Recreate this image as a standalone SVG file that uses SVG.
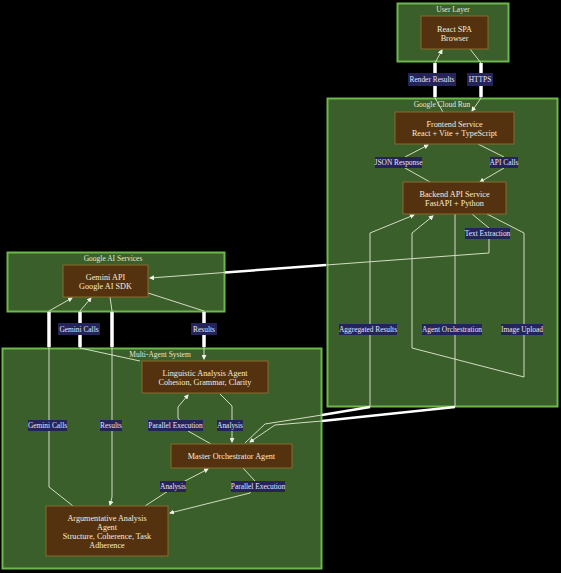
<svg xmlns="http://www.w3.org/2000/svg" width="561" height="573" viewBox="0 0 561 573">
<style>
.cl{fill:#3a5f2b;stroke:#6db84c;stroke-width:2}
.ct{font-family:"Liberation Serif",serif;font-size:7.5px;fill:#e6e6d6;text-anchor:middle}
.nd{fill:#55320f;stroke:#8a6a2c;stroke-width:1}
.nt{font-family:"Liberation Serif",serif;font-size:8.2px;fill:#f4ecdc;text-anchor:middle}
.e{fill:none;stroke:#d4dcc4;stroke-width:1}
.w{fill:none;stroke:#ffffff;stroke-width:3.5}
.lb{fill:#24245a}
.lt{font-family:"Liberation Serif",serif;font-size:7.4px;fill:#e4e4f4;text-anchor:middle}
</style>
<defs>
<marker id="ah" markerWidth="5" markerHeight="5" refX="4" refY="2.5" orient="auto" markerUnits="userSpaceOnUse">
<path d="M0,0 L5,2.5 L0,5 Z" fill="#f0f0e8"/>
</marker>
</defs>
<rect width="561" height="573" fill="#000"/>
<g id="clusters">
<g id="user-layer"><rect class="cl" x="397.5" y="3.5" width="111" height="58"/><text class="ct" x="453" y="12">User Layer</text></g>
<g id="google-cloud-run"><rect class="cl" x="327.5" y="98.5" width="230" height="308"/><text class="ct" x="442" y="107">Google Cloud Run</text></g>
<g id="google-ai-services"><rect class="cl" x="7.5" y="252.5" width="217" height="59"/><text class="ct" x="113" y="261">Google AI Services</text></g>
<g id="multi-agent-system"><rect class="cl" x="2.5" y="348.5" width="319" height="220"/><text class="ct" x="160" y="356.5">Multi-Agent System</text></g>
</g>
<g id="connectors">
<path class="e" d="M470,49 L481,63 L481,98 L472,111" marker-end="url(#ah)"/>
<path class="e" d="M443,112 L435,98 L435,63 L442,50" marker-end="url(#ah)"/>
<path class="e" d="M478,144 L504,157 L504,168 L480,182" marker-end="url(#ah)"/>
<path class="e" d="M430,182 L405,168 L405,157 L428,145" marker-end="url(#ah)"/>
<path class="e" d="M472,214 L489,228 L489,253 L150,278" marker-end="url(#ah)"/>
<path class="e" d="M455,214 L455,407 L322,421 L275,425 L250,442" marker-end="url(#ah)"/>
<path class="e" d="M245,443 L265,424 L322,415 L370,407 L370,233 L414,215" marker-end="url(#ah)"/>
<path class="e" d="M487,214 L524,233 L524,377 L412,348 L412,233 L433,216" marker-end="url(#ah)"/>
<path class="e" d="M140,361 L80,348 L80,311 L91,298" marker-end="url(#ah)"/>
<path class="e" d="M73,506 L49,487 L49,311 L72,298" marker-end="url(#ah)"/>
<path class="e" d="M110,297 L112,311 L112,497 L110,505" marker-end="url(#ah)"/>
<path class="e" d="M148,293 L204,311 L204,359" marker-end="url(#ah)"/>
<path class="e" d="M211,444 L188,431 L178,418 L178,407 L188,395" marker-end="url(#ah)"/>
<path class="e" d="M220,394 L232,406 L232,442" marker-end="url(#ah)"/>
<path class="e" d="M243,468 L255,481 L250,493 L170,513" marker-end="url(#ah)"/>
<path class="e" d="M145,506 L165,493 L185,481 L208,469" marker-end="url(#ah)"/>
<path class="w" d="M481,63 L481,97 M435,63 L435,97"/>
<path class="w" d="M326,265 L225,272.5" style="stroke-width:2.5"/>
<path class="w" d="M322,421 L455,407 M322,415 L370,407" style="stroke-width:2.5"/>
<path class="w" d="M80,312 L80,347 M49,312 L49,347 M112,312 L112,347 M204,312 L204,347"/>
<rect class="lb" x="408" y="73" width="48" height="13"/><text class="lt" x="432" y="82">Render Results</text>
<rect class="lb" x="467" y="73" width="26" height="13"/><text class="lt" x="480" y="82">HTTPS</text>
<rect class="lb" x="490" y="157" width="28" height="11"/><text class="lt" x="504" y="165">API Calls</text>
<rect class="lb" x="375" y="157" width="47" height="11"/><text class="lt" x="398.5" y="165">JSON Response</text>
<rect class="lb" x="465" y="228" width="45" height="11"/><text class="lt" x="487.5" y="236">Text Extraction</text>
<rect class="lb" x="339" y="324" width="58" height="11"/><text class="lt" x="368" y="332">Aggregated Results</text>
<rect class="lb" x="422" y="324" width="60" height="11"/><text class="lt" x="452" y="332">Agent Orchestration</text>
<rect class="lb" x="501" y="324" width="42" height="11"/><text class="lt" x="522" y="332">Image Upload</text>
<rect class="lb" x="58" y="323" width="42" height="12"/><text class="lt" x="79" y="331.5">Gemini Calls</text>
<rect class="lb" x="191" y="323" width="26" height="12"/><text class="lt" x="204" y="331.5">Results</text>
<rect class="lb" x="28" y="420" width="39" height="11"/><text class="lt" x="47.5" y="428">Gemini Calls</text>
<rect class="lb" x="100" y="420" width="22" height="11"/><text class="lt" x="111" y="428">Results</text>
<rect class="lb" x="148" y="420" width="55" height="11"/><text class="lt" x="175.5" y="428">Parallel Execution</text>
<rect class="lb" x="217" y="420" width="26" height="11"/><text class="lt" x="230" y="428">Analysis</text>
<rect class="lb" x="160" y="481" width="26" height="11"/><text class="lt" x="173" y="489">Analysis</text>
<rect class="lb" x="231" y="481" width="54" height="11"/><text class="lt" x="258" y="489">Parallel Execution</text>
</g>
<g id="react-spa"><rect class="nd" x="421" y="16" width="67" height="33"/><text class="nt" x="454.5" y="32">React SPA</text><text class="nt" x="454.5" y="41">Browser</text></g>
<g id="frontend-service"><rect class="nd" x="395" y="112" width="119" height="32"/><text class="nt" x="454.5" y="127">Frontend Service</text><text class="nt" x="454.5" y="136">React + Vite + TypeScript</text></g>
<g id="backend-api-service"><rect class="nd" x="403" y="182" width="103" height="32"/><text class="nt" x="454.5" y="197">Backend API Service</text><text class="nt" x="454.5" y="206">FastAPI + Python</text></g>
<g id="gemini-api"><rect class="nd" x="63" y="265" width="85" height="32"/><text class="nt" x="105.5" y="280">Gemini API</text><text class="nt" x="105.5" y="289">Google AI SDK</text></g>
<g id="linguistic-agent"><rect class="nd" x="142" y="361" width="126" height="32"/><text class="nt" x="205" y="376">Linguistic Analysis Agent</text><text class="nt" x="205" y="385">Cohesion, Grammar, Clarity</text></g>
<g id="master-orchestrator"><rect class="nd" x="171" y="444" width="121" height="24"/><text class="nt" x="231.5" y="459">Master Orchestrator Agent</text></g>
<g id="argumentative-agent"><rect class="nd" x="46" y="506" width="122" height="50"/><text class="nt" x="107" y="521">Argumentative Analysis</text><text class="nt" x="107" y="530">Agent</text><text class="nt" x="107" y="539">Structure, Coherence, Task</text><text class="nt" x="107" y="548">Adherence</text></g>
</svg>
